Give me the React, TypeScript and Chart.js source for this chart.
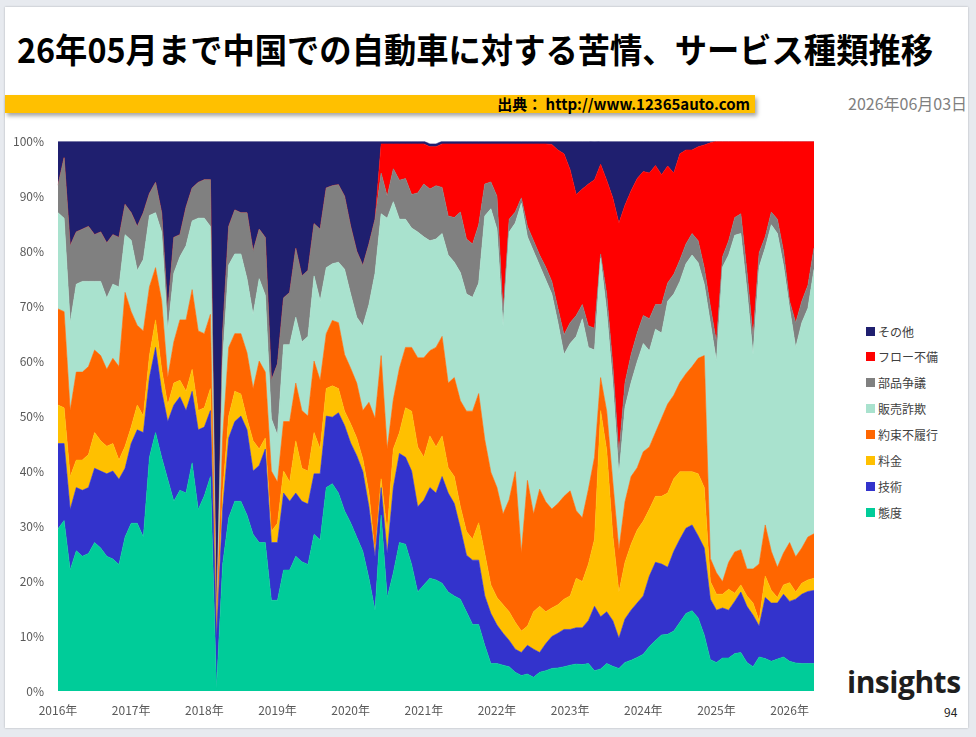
import React, { useEffect, useRef } from "react";
import { Chart, registerables } from "chart.js";

Chart.register(...registerables);

const FONT = "'Noto Sans CJK JP', 'Noto Sans', sans-serif";

// ---------- categories ----------
const YEARS = ["2016", "2017", "2018", "2019", "2020", "2021", "2022", "2023", "2024", "2025", "2026"];
const MONTHS = ["01", "02", "03", "04", "05", "06", "07", "08", "09", "10", "11", "12"];
const LAST_PERIOD = "2026-05";
const CATEGORIES: string[] = [];
for (const y of YEARS) {
  for (const m of MONTHS) {
    const c = `${y}-${m}`;
    if (c > LAST_PERIOD) break;
    CATEGORIES.push(c);
  }
}
const Y_TICKS = [0, 10, 20, 30, 40, 50, 60, 70, 80, 90, 100];

// ---------- series (share of complaints, %) ----------
const TAIDO = [
  29.5, 31, 22, 25.5, 24.5, 25, 27, 26, 24.5, 24,
  23, 28, 30.5, 30.5, 28, 42.5, 47, 42.5, 38.5, 34.5,
  36.5, 36, 41.5, 33, 35.5, 39, 0.5, 23, 31.5, 34.5,
  34.5, 32, 28.5, 27, 27, 16.5, 16.5, 22, 22, 24.5,
  23.5, 23, 28.5, 27.5, 37, 37.7, 36, 32.8, 30.6, 28,
  25.4, 20.5, 14.7, 32, 17, 21.5, 27, 26.7, 23, 18,
  19.3, 20.5, 20.2, 19.6, 18, 17.3, 16.7, 14.4, 12.1, 12.1,
  8.3, 5, 5, 4.7, 4.4, 3.4, 2.8, 3.1, 2.5, 3.4,
  3.7, 4.1, 4.2, 4.4, 4.7, 4.9, 4.8, 5, 3.7, 4,
  5, 4.5, 4.1, 5.2, 5.6, 6.1, 6.7, 8.1, 9.2, 10.2,
  10.3, 10.9, 12.5, 14.1, 14.6, 13.3, 10.2, 5.7, 5.2, 6,
  6, 6.8, 7, 5.2, 4.4, 6.2, 5.9, 5.4, 5.8, 6.2,
  5.4, 5.1, 5, 5, 5,
];
const GIJUTSU = [
  15.5, 14, 11, 11.5, 12, 12, 13.5, 14, 15, 16,
  15.5, 12.5, 14.5, 17, 19, 14.5, 15.5, 12, 10.5, 17.5,
  17, 15, 13, 14.5, 12.5, 12, 9, 10, 14.5, 14.5,
  15.5, 15.5, 11.5, 14, 17, 10.5, 10.5, 14, 12.5, 11.5,
  11, 11, 11, 12, 13, 12.1, 14.6, 15.5, 14.5, 14.8,
  14.5, 13, 9.7, 5, 8, 15.5, 16.2, 15.8, 17, 15.5,
  15.4, 16.5, 15.8, 19.4, 18, 16.8, 12.9, 10.3, 11.7, 11.7,
  9, 9.1, 7, 5.8, 4.8, 4.2, 4.2, 5.2, 5.1, 3.6,
  4.9, 5.8, 6.3, 6.8, 6.5, 6.6, 6.7, 7.8, 11.7, 9.5,
  9.4, 8.3, 5.5, 7.9, 9.1, 9.9, 10.6, 12.8, 14.2, 12.9,
  12.2, 14.5, 15.1, 15.5, 15.6, 14.9, 15.8, 11, 9.5, 9.1,
  8.7, 9.5, 11, 10.2, 9.4, 5.6, 11.1, 10.6, 10.2, 11.4,
  10.9, 11.6, 12.6, 13.1, 13.3,
];
const RYOKIN = [
  7, 6.5, 6, 5, 5.5, 6, 6.5, 5.5, 5, 5,
  3.5, 4, 3, 4.5, 3, 4, 5, 4, 3, 4,
  3, 3.5, 4, 3.5, 3.5, 4, 0.5, 3, 4, 5.5,
  4, 2, 5.5, 3, 2, 2, 3.5, 4, 3.5, 9.5,
  6, 6, 7.5, 4.5, 5, 5.7, 4.4, 2.6, 3.5, 3.2,
  2.3, 2.5, 0.6, 1.6, 4, 7, 3.8, 9, 10.9, 10.9,
  7.8, 9.4, 8.4, 7.4, 4.6, 4.9, 3.9, 4.3, 3.8, 6.8,
  7.7, 5.2, 5, 5.2, 5.2, 4.9, 3.9, 3.5, 6.8, 8.4,
  5.8, 5.2, 5.2, 5.5, 6.1, 9, 8.4, 10.3, 12.2, 37.5,
  29.4, 15.5, 8.4, 10.3, 12, 13.3, 13.6, 12.2, 12, 12.3,
  13.5, 13.2, 12.3, 10.3, 9.7, 11.3, 11, 3.2, 2.9, 2.5,
  3.8, 1.5, 1.3, 1.9, 2.2, 1, 3.9, 2.3, 1, 1.7,
  3.4, 1.3, 2, 2.1, 2.2,
];
const YAKUSOKU = [
  17.5, 17.5, 12, 16, 16, 16, 15, 15.5, 14, 15.5,
  17, 28, 21, 14.5, 15.5, 12.5, 9.5, 12.5, 5, 7.5,
  11, 13, 14.5, 14.5, 13.5, 13.5, 1, 10, 12.5, 10.5,
  11, 12, 9.5, 16, 12, 11, 7.5, 9, 11, 10.5,
  10.5, 10, 13, 12.5, 10, 11.9, 12, 10.3, 10.1, 10,
  8.8, 16.5, 24.6, 22.4, 15, 9, 11.7, 11, 11.6, 16.2,
  18.1, 15.5, 18.1, 18.1, 15.4, 18, 19.3, 21.9, 23.3, 23.5,
  20.7, 20.5, 20, 16.5, 20.4, 27.4, 14.2, 26.5, 17.8, 21.3,
  20, 18, 18.4, 18.7, 19.1, 12.3, 11.6, 13.6, 14.9, 6,
  7.1, 9.7, 7.7, 11, 12.3, 11.3, 12.6, 11.3, 11.6, 14.2,
  16.2, 15.2, 16.2, 17.8, 19.1, 21, 24, 4.2, 3.9, 2.3,
  4.9, 7.5, 6.4, 4.9, 6.2, 10.3, 9.3, 7.1, 5.5, 5.8,
  7.3, 6.4, 6.4, 7.8, 8.1,
];
const HANBAI = [
  17.5, 17, 16, 16, 16.5, 15.5, 12.5, 13.5, 13, 13.5,
  14.5, 10.5, 13, 10, 13, 13, 10, 12.5, 8.5, 12.5,
  11.5, 13.5, 12.5, 20.5, 21, 16, 0.5, 14, 15, 14.5,
  14.5, 13.5, 13.5, 15, 14, 9.5, 8.5, 14, 14, 12,
  12.5, 14.5, 15.5, 14.5, 12, 10.3, 11, 15.5, 13.5, 12,
  15.4, 17.8, 26.4, 25.8, 42, 36, 27.1, 23.3, 21.7, 22.9,
  22, 20, 19.7, 18.7, 23.3, 21, 23.3, 21.3, 20.7, 20.1,
  40.7, 47.9, 47, 34.2, 48.7, 45.2, 63.6, 44.3, 47.8, 40.7,
  40.4, 39.1, 32.9, 25.8, 26.8, 31.7, 36.2, 25.8, 19.5, 21.7,
  18.1, 18, 13.6, 17.2, 17.1, 19.3, 19.7, 17.5, 18.8, 15.5,
  18.7, 18.4, 18.4, 20, 20.3, 17.4, 13, 42.9, 38.5, 57.2,
  55.9, 57.6, 57.5, 50.7, 39, 54, 50.4, 59.4, 60.7, 52.3,
  42.6, 38.1, 41, 41.6, 48.1,
];
const BUHIN = [
  5, 11, 14, 9.5, 9.5, 10, 8.5, 9, 10, 9,
  9, 5.5, 5, 8, 8.5, 4, 5.5, 3.5, 3.5, 6.5,
  4, 7, 6, 6.5, 7, 8.5, 0.3, 5, 7, 8,
  7.5, 12, 11.5, 9, 10.5, 7, 13, 8.5, 9.5, 12.5,
  12, 12, 9.5, 13, 14.5, 14.2, 14.1, 13.3, 12.3, 12,
  11, 11, 9.8, 7.4, 4, 6, 7.1, 7.4, 6.1, 7.1,
  9.6, 9.4, 9.7, 8.4, 7.1, 8.1, 11, 10, 9.7, 10.6,
  5.8, 4.9, 6, 2.6, 2.3, 2, 1, 1.9, 1.9, 1.9,
  2.3, 2.3, 2.6, 3.6, 3.8, 3.8, 2.6, 3.9, 4, 0.8,
  3.2, 3.3, 3.9, 4.5, 5.1, 5.2, 5.1, 5.8, 4.5, 5.2,
  3.3, 3.6, 3.9, 3.6, 3.9, 4, 3, 3, 3.5, 1.9,
  2.6, 3.2, 3.6, 3.5, 3.3, 2.6, 2, 2.3, 2.6, 2.6,
  1.3, 4.5, 3.9, 4.2, 3.9,
];
const FLOW = [
  0, 0, 0, 0, 0, 0, 0, 0, 0, 0,
  0, 0, 0, 0, 0, 0, 0, 0, 0, 0,
  0, 0, 0, 0, 0, 0, 0, 0, 0, 0,
  0, 0, 0, 0, 0, 0, 0, 0, 0, 0,
  0, 0, 0, 0, 0, 0, 0, 0, 0, 0,
  0, 0, 0, 5.3, 9.5, 4.5, 6.6, 6.3, 9.2, 8.9,
  7.3, 7.7, 7.1, 7.9, 13.1, 13.4, 12.4, 17.3, 18.2, 14.7,
  7.3, 6.9, 9.5, 30.5, 13.7, 12.4, 9.8, 15, 17.6, 20.2,
  22.4, 24.9, 28.8, 32.9, 27.8, 22, 21, 25.8, 27, 16.3,
  20.7, 30.4, 41.9, 32.3, 29.8, 28.1, 26.2, 26.5, 25.3, 23.6,
  21.3, 18.4, 19.3, 17.1, 15.2, 17.1, 22.3, 29.7, 36.5, 21,
  18.1, 13.9, 13.2, 23.6, 35.5, 20.3, 17.4, 12.9, 14.2, 20,
  29.1, 33, 29.1, 26.2, 19.4,
];
const SONOTA = [
  8, 3, 19, 16.5, 16, 15.5, 17, 16.5, 18.5, 17,
  17.5, 11.5, 13, 15.5, 13, 9.5, 7.5, 13, 31, 17.5,
  17, 12, 8.5, 7.5, 7, 7, 88.2, 35, 15.5, 12.5,
  13, 13, 20, 16, 17.5, 43.5, 40.5, 28.5, 27.5, 19.5,
  24.5, 23.5, 15, 16, 8.5, 8.1, 7.9, 10, 15.5, 20,
  22.6, 18.7, 14.2, 0.5, 0.5, 0.5, 0.5, 0.5, 0.5, 0.5,
  0.5, 0.5, 0.5, 0.5, 0.5, 0.5, 0.5, 0.5, 0.5, 0.5,
  0.5, 0.5, 0.5, 0.5, 0.5, 0.5, 0.5, 0.5, 0.5, 0.5,
  0.5, 0.6, 1.6, 2.3, 5.2, 9.7, 8.7, 7.8, 7.1, 4.2,
  7.1, 10.3, 14.9, 11.6, 9, 6.8, 5.5, 5.8, 4.4, 6.1,
  4.5, 5.8, 2.3, 1.6, 1.6, 1, 0.7, 0.3, 0, 0,
  0, 0, 0, 0, 0, 0, 0, 0, 0, 0,
  0, 0, 0, 0, 0,
];

// stacking order: bottom -> top
const SERIES = [
  { name: "態度", data: TAIDO, color: "#00CC99" },
  { name: "技術", data: GIJUTSU, color: "#3333CC" },
  { name: "料金", data: RYOKIN, color: "#FFC000" },
  { name: "約束不履行", data: YAKUSOKU, color: "#FF6600" },
  { name: "販売詐欺", data: HANBAI, color: "#A9E2CE" },
  { name: "部品争議", data: BUHIN, color: "#808080" },
  { name: "フロー不備", data: FLOW, color: "#FF0000" },
  { name: "その他", data: SONOTA, color: "#1F1F6F" },
];

const TITLE = "26年05月まで中国での自動車に対する苦情、サービス種類推移";
const SOURCE = "出典： http://www.12365auto.com";
const DATE = "2026年06月03日";

export default function App() {
  const ref = useRef<HTMLCanvasElement | null>(null);

  useEffect(() => {
    if (!ref.current) return;
    const chart = new Chart(ref.current, {
      type: "line",
      data: {
        labels: CATEGORIES,
        datasets: SERIES.map((s, i) => ({
          label: s.name,
          data: s.data,
          backgroundColor: s.color,
          borderColor: s.color,
          borderWidth: 0.6,
          pointRadius: 0,
          pointHoverRadius: 0,
          tension: 0,
          fill: i === 0 ? "origin" : "-1",
        })),
      },
      options: {
        responsive: false,
        animation: false,
        layout: { padding: { left: 8, top: 11, right: 16, bottom: 4 } },
        plugins: { legend: { display: false }, tooltip: { enabled: false } },
        scales: {
          x: {
            type: "category",
            grid: { display: false, drawTicks: false },
            border: { display: false },
            ticks: {
              autoSkip: false,
              maxRotation: 0,
              minRotation: 0,
              padding: 12,
              color: "#595959",
              font: { family: FONT, size: 12 },
              callback: (_v: any, idx: number) => {
                const c = CATEGORIES[idx];
                return c && c.endsWith("-01") ? c.slice(0, 4) + "年" : "";
              },
            },
            afterFit: (scale: any) => {
              scale.height = 30;
            },
          },
          y: {
            stacked: true,
            min: 0,
            max: 100,
            grid: { display: false, drawTicks: false },
            border: { display: false },
            afterBuildTicks: (scale: any) => {
              scale.ticks = Y_TICKS.map((v) => ({ value: v }));
            },
            ticks: {
              padding: 14,
              color: "#595959",
              font: { family: FONT, size: 12 },
              callback: (v: any) => `${v}%`,
            },
            afterFit: (scale: any) => {
              scale.width = 50;
            },
          },
        },
      },
    });
    return () => chart.destroy();
  }, []);

  const legendItems = [...SERIES].reverse();

  return (
    <div
      style={{
        position: "absolute",
        left: 0,
        top: 0,
        width: 976,
        height: 737,
        background: "#E7EAEF",
        fontFamily: FONT,
        overflow: "hidden",
      }}
    >
      <div
        style={{
          position: "absolute",
          left: 5,
          top: 7,
          width: 963,
          height: 721,
          background: "#FFFFFF",
          boxShadow: "0 0 2px rgba(0,0,0,0.25)",
        }}
      />
      <div
        style={{
          position: "absolute",
          left: 17,
          top: 30,
          fontSize: 34,
          fontWeight: 700,
          lineHeight: "38px",
          color: "#000",
          whiteSpace: "nowrap",
          transform: "scaleX(0.95)",
          transformOrigin: "left center",
        }}
      >
        {TITLE}
      </div>
      <div
        style={{
          position: "absolute",
          left: 5,
          top: 95,
          width: 750,
          height: 18,
          background: "#FFC000",
          boxShadow: "2px 3px 4px rgba(0,0,0,0.35)",
        }}
      />
      <div
        style={{
          position: "absolute",
          left: 300,
          top: 95,
          width: 450,
          height: 18,
          lineHeight: "18px",
          textAlign: "right",
          fontSize: 15,
          fontWeight: 700,
          color: "#000",
          whiteSpace: "nowrap",
        }}
      >
        {SOURCE}
      </div>
      <div
        style={{
          position: "absolute",
          left: 848,
          top: 93,
          fontSize: 16,
          lineHeight: "20px",
          color: "#7F7F7F",
          whiteSpace: "nowrap",
        }}
      >
        {DATE}
      </div>
      <canvas
        ref={ref}
        width={830}
        height={605}
        style={{ position: "absolute", left: 0, top: 120, width: 830, height: 605 }}
      />
      {legendItems.map((s, k) => (
        <div
          key={s.name}
          style={{
            position: "absolute",
            left: 866,
            top: 331 + k * 25.9 - 9,
            height: 18,
            display: "flex",
            alignItems: "center",
            fontSize: 12,
            color: "#404040",
            whiteSpace: "nowrap",
          }}
        >
          <span style={{ display: "inline-block", width: 9, height: 9, background: s.color, marginRight: 3 }} />
          {s.name}
        </div>
      ))}
      <div
        style={{
          position: "absolute",
          left: 847,
          top: 664,
          fontSize: 30,
          fontWeight: 700,
          lineHeight: "36px",
          color: "#1E1E1E",
          fontFamily: "'Open Sans', 'Noto Sans', sans-serif",
          letterSpacing: -0.5,
        }}
      >
        insights
      </div>
      <div
        style={{
          position: "absolute",
          left: 944,
          top: 704,
          fontSize: 12,
          lineHeight: "16px",
          color: "#222",
        }}
      >
        94
      </div>
    </div>
  );
}
